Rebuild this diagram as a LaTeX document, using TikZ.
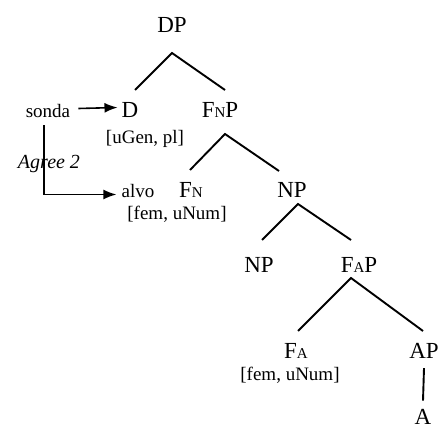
\documentclass[tikz,border=0pt]{standalone}
\usepackage{fontspec}
\setmainfont{Liberation Serif}
\usetikzlibrary{arrows.meta}
\newcommand{\lbl}[1]{{\fontsize{15}{15}\selectfont #1}}

\begin{document}
\begin{tikzpicture}[x=1pt,y=-1pt,
    every node/.style={inner sep=0pt, anchor=base, text=black},
    cat/.style={font=\fontsize{23}{23}\selectfont},
    feat/.style={font=\fontsize{19}{19}\selectfont},
    branch/.style={line width=1.9pt},
    probe/.style={line width=1.6pt, -{Latex[length=13pt,width=10pt]}},
    ]
  \useasboundingbox (0,0) rectangle (441,430);
  % categories
  \node[cat] (dp) at (172,33) {DP};
  \node[cat] (d) at (130,118) {D};
  \node[cat] (fnp) at (220,118) {F\lbl{N}P};
  \node[cat] (fn) at (191,198) {F\lbl{N}};
  \node[cat] (np) at (292,198) {NP};
  \node[cat] (np2) at (259,272) {NP};
  \node[cat] (fap) at (359,272) {F\lbl{A}P};
  \node[cat] (fa) at (296,358) {F\lbl{A}};
  \node[cat] (ap) at (424,358) {AP};
  \node[cat] (a) at (423,424) {A};
  % features and probes
  \node[feat] (sonda) at (48,118) {sonda};
  \node[feat] (alvo) at (138,198) {alvo};
  \node[feat] (ugen) at (145,144) {[uGen, pl]};
  \node[feat] (fem1) at (177,219) {[fem, uNum]};
  \node[feat] (fem2) at (290,380) {[fem, uNum]};
  \node[feat, font=\fontsize{20}{20}\selectfont\itshape] (agree) at (49,169) {Agree 2};
  % branch points
  \coordinate (dp-t) at (172,53);
  \coordinate (dp-l) at (135,90);
  \coordinate (dp-r) at (225,90);
  \coordinate (fnp-t) at (225,134);
  \coordinate (fnp-l) at (190,170);
  \coordinate (fnp-r) at (279,171);
  \coordinate (np-t) at (298,204);
  \coordinate (np-l) at (262,240);
  \coordinate (np-r) at (351,240);
  \coordinate (fap-t) at (351,278);
  \coordinate (fap-l) at (298,331);
  \coordinate (fap-r) at (423,331);
  \draw[branch] (dp-l) -- (dp-t) -- (dp-r);
  \draw[branch] (fnp-l) -- (fnp-t) -- (fnp-r);
  \draw[branch] (np-l) -- (np-t) -- (np-r);
  \draw[branch] (fap-l) -- (fap-t) -- (fap-r);
  \draw[branch] ([yshift=-10pt]ap.south) -- ([yshift=8pt]a.north);
  % agree arrows
  \draw[probe] ([xshift=8pt,yshift=3pt]sonda.east) -- ([xshift=-4pt,yshift=3pt]d.west);
  \draw[probe] ([xshift=-4pt,yshift=-7pt]sonda.south) |- ([xshift=-5pt,yshift=-3pt]alvo.west);
\end{tikzpicture}
\end{document}
